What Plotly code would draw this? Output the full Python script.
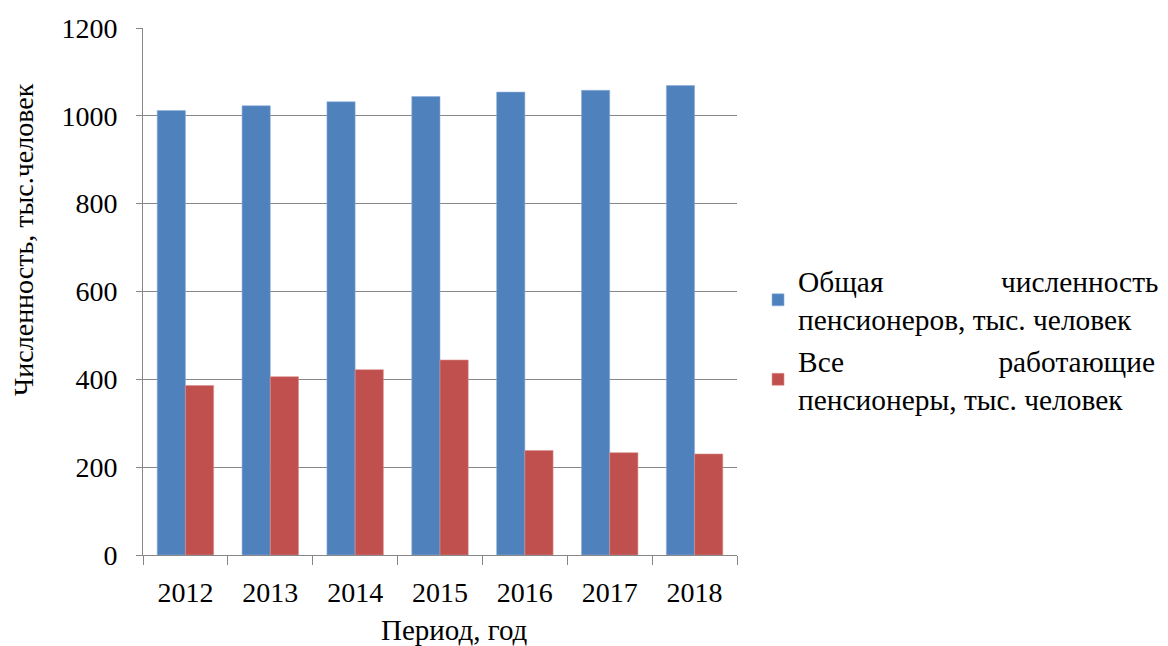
import plotly.graph_objects as go

years = ["2012", "2013", "2014", "2015", "2016", "2017", "2018"]
total_pensioners = [1012, 1023, 1032, 1044, 1054, 1058, 1069]
working_pensioners = [386, 406, 422, 444, 238, 233, 230]

x_title = "Период, год"
y_title = "Численность, тыс.человек"
name_total = "Общая" + "\u00a0" * 16 + "численность<br>пенсионеров, тыс. человек"
name_working = "Все" + "\u00a0" * 21 + "работающие<br>пенсионеры, тыс. человек"

FONT = "Liberation Serif"
GRID = "#878787"

fig = go.Figure()
fig.add_trace(go.Bar(x=years, y=total_pensioners, name=name_total,
                     marker=dict(color="#4F81BD", line=dict(color="#8EAEDB", width=0.6))))
fig.add_trace(go.Bar(x=years, y=working_pensioners, name=name_working,
                     marker=dict(color="#C0504D", line=dict(color="#DB8E8C", width=0.6))))

# the page body adds an 8px offset, so margins are reduced by 8 on left/top
fig.update_layout(
    width=1168, height=646,
    margin=dict(l=135, r=439, t=20, b=99, autoexpand=False),
    paper_bgcolor="white", plot_bgcolor="white",
    font=dict(family=FONT, size=28, color="black"),
    barmode="group", bargap=0.335, bargroupgap=0,
    legend=dict(x=1.0354, y=0.569, xanchor="left", yanchor="top",
                font=dict(family=FONT, size=29.4, color="black"),
                bgcolor="rgba(0,0,0,0)", tracegroupgap=0, itemwidth=30),
    annotations=[
        dict(text=x_title, xref="paper", yref="paper", x=0.5236, y=-0.1423,
             xanchor="center", yanchor="middle", showarrow=False,
             font=dict(family=FONT, size=29, color="black")),
        dict(text=y_title, xref="paper", yref="paper", x=-0.2003, y=0.598,
             xanchor="center", yanchor="middle", showarrow=False, textangle=-90,
             font=dict(family=FONT, size=28, color="black")),
    ],
)
fig.update_xaxes(
    type="category", tickson="boundaries", ticks="outside", ticklen=9,
    tickcolor=GRID, showline=True, linecolor=GRID, linewidth=1,
    showgrid=False, ticklabelstandoff=12,
    tickfont=dict(family=FONT, size=28),
)
fig.update_yaxes(
    range=[0, 1200], dtick=200, ticks="outside", ticklen=6, tickcolor=GRID,
    showline=True, linecolor=GRID, linewidth=1,
    showgrid=True, gridcolor=GRID, gridwidth=1,
    zeroline=False, ticklabelstandoff=13,
    tickfont=dict(family=FONT, size=28),
)

fig.write_html("out.html")
